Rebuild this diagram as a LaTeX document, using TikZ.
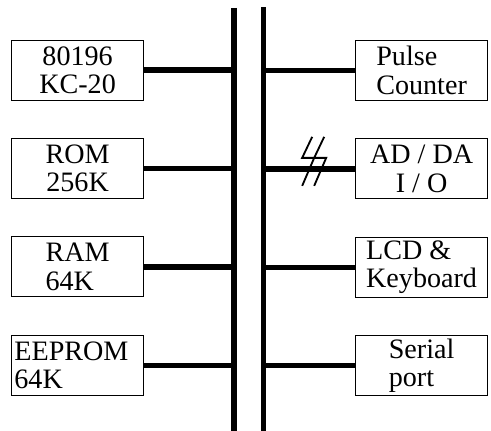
\documentclass[tikz,border=0pt]{standalone}
\usepackage{fontspec}
\setmainfont{Liberation Serif}
\usetikzlibrary{positioning, calc}
\tikzset{
  unit/.style={rectangle, draw=black, fill=white,
    minimum width=3.3cm, minimum height=1.5cm, inner sep=1.5pt,
    align=center, font=\fontsize{20}{20}\selectfont, line width=0.6pt},
  bus/.style={line width=3.8pt, color=black},
  tap/.style={line width=3.8pt, color=black},
  slash/.style={line width=1.3pt, color=black}
}

\begin{document}
\begin{tikzpicture}[node distance=0.94cm]
  \useasboundingbox (0,0) rectangle (12.275,-10.775);
  % Bus
  \coordinate (lbustop) at (5.85,-0.2);
  \coordinate (lbusbot) at (5.85,-10.775);
  \coordinate (rbustop) at (6.59,-0.18);
  \coordinate (rbusbot) at (6.59,-10.775);
  \draw[bus] (lbustop) -- (lbusbot);
  \draw[bus] (rbustop) -- (rbusbot);

  % Left side
  \node[unit] (cpu) at (1.94,-1.75) {80196\\KC-20};
  \node[unit, below=of cpu] (rom) {ROM\\256K};
  \node[unit, align=left, below=of rom] (ram) {RAM\\64K};
  \node[unit, text width=3.16cm, align=left, below=of ram] (eeprom) {EEPROM\\64K};

  % Right side
  \node[unit, align=left] (pulse) at (10.54,-1.76) {Pulse\\Counter};
  \node[unit, below=of pulse] (adda) {AD / DA\\I / O};
  \node[unit, align=left, below=of adda] (lcd) {LCD \&\\Keyboard};
  \node[unit, align=left, below=of lcd] (serial) {Serial\\port};

  % Taps
  \foreach \n in {cpu, rom, ram, eeprom}
    \draw[tap] (\n.east) -- (\n -| lbustop);
  \foreach \n in {pulse, adda, lcd, serial}
    \draw[tap] (\n.west) -- (\n -| rbustop);

  % Slash marks
  \foreach \dx in {0, 0.3}
    \draw[slash] ($(adda.west)+(-1.075+\dx,0.8)$) -- ++(-0.25,-0.525)
      -- ++(0.3,0) -- ++(-0.3,-0.7);
\end{tikzpicture}
\end{document}
